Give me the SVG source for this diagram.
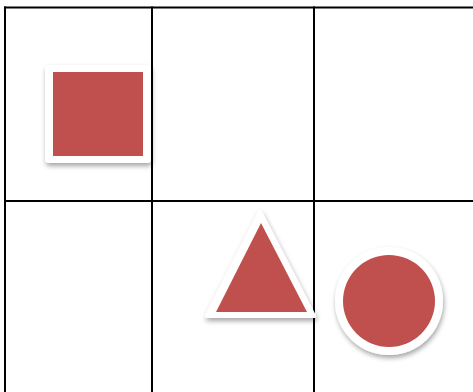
<svg xmlns="http://www.w3.org/2000/svg" width="473" height="392" viewBox="0 0 473 392">
<defs>
<style>
.grid{stroke:#000;stroke-width:2;fill:none}
.frame{fill:#fff;filter:url(#sh)}
.red{fill:#C0504D}
</style>
<filter id="sh" x="-20%" y="-20%" width="140%" height="150%">
<feDropShadow dx="1" dy="3" stdDeviation="2.5" flood-color="#000" flood-opacity="0.35"/>
</filter>
</defs>
<rect width="473" height="392" fill="#fff"/>
<g id="connectors">
<line class="grid" x1="4" y1="7.5" x2="473" y2="7.5"/>
<line class="grid" x1="4" y1="201" x2="473" y2="201"/>
<line class="grid" x1="5" y1="6.5" x2="5" y2="392"/>
<line class="grid" x1="152" y1="6.5" x2="152" y2="392"/>
<line class="grid" x1="314" y1="6.5" x2="314" y2="392"/>
</g>
<g id="square">
<rect class="frame" x="45" y="65" width="106" height="98" rx="4"/>
<rect class="red" x="53" y="72" width="90" height="84"/>
</g>
<g id="triangle">
<polygon class="frame" points="260,212 314,316 207,316" stroke="#fff" stroke-width="4" stroke-linejoin="round"/>
<polygon class="red" points="261,223 307,312 216,312"/>
</g>
<g id="circle">
<circle class="frame" cx="389" cy="301" r="54"/>
<circle class="red" cx="389" cy="301" r="46"/>
</g>
</svg>
